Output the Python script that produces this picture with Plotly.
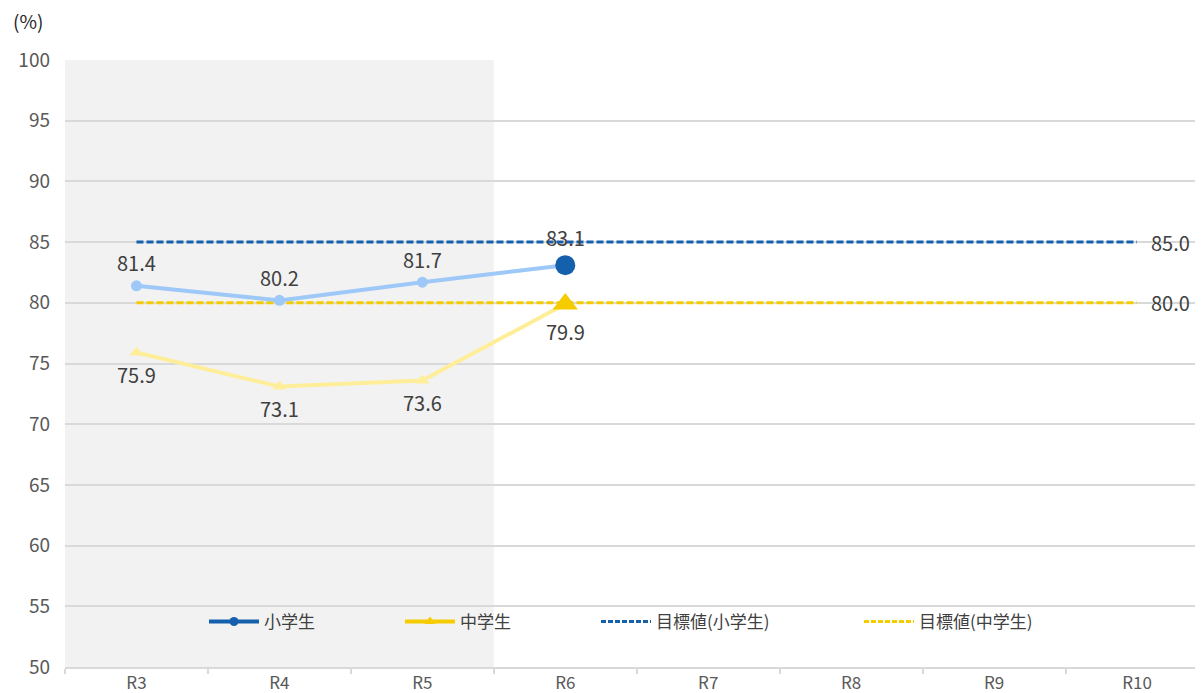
import plotly.graph_objects as go

categories = ["R3", "R4", "R5", "R6", "R7", "R8", "R9", "R10"]
elem_years = ["R3", "R4", "R5", "R6"]
elem_values = [81.4, 80.2, 81.7, 83.1]
junior_years = ["R3", "R4", "R5", "R6"]
junior_values = [75.9, 73.1, 73.6, 79.9]
target_elem = [85.0, 85.0, 85.0, 85.0, 85.0, 85.0, 85.0, 85.0]
target_junior = [80.0, 80.0, 80.0, 80.0, 80.0, 80.0, 80.0, 80.0]
past_years = ["R3", "R4", "R5"]
names = ["小学生", "中学生", "目標値(小学生)", "目標値(中学生)"]

FONT = "Noto Sans CJK JP, Noto Sans, sans-serif"
BLUE = "#1560AC"
LBLUE = "#9DC8F7"
YEL = "#F5CC00"
LYEL = "#FFEE99"
GRID = "#D9D9D9"
TXT = "#404040"

fig = go.Figure()

# target lines
fig.add_trace(go.Scatter(x=categories, y=target_elem, mode="lines",
                         line=dict(color=BLUE, width=3, dash="7px,3px"),
                         showlegend=False, hoverinfo="skip"))
fig.add_trace(go.Scatter(x=categories, y=target_junior, mode="lines",
                         line=dict(color=YEL, width=3, dash="7px,3px"),
                         showlegend=False, hoverinfo="skip"))

n_past = len(past_years)
elem_colors = [LBLUE] * n_past + [BLUE] * (len(elem_values) - n_past)
elem_sizes = [11] * n_past + [20] * (len(elem_values) - n_past)
jun_colors = [LYEL] * n_past + [YEL] * (len(junior_values) - n_past)
jun_sizes = [12] * n_past + [22] * (len(junior_values) - n_past)

fig.add_trace(go.Scatter(x=junior_years, y=junior_values, mode="lines+markers",
                         line=dict(color=LYEL, width=4),
                         marker=dict(symbol="triangle-up", color=jun_colors, size=jun_sizes,
                                     opacity=1, line=dict(width=0)),
                         showlegend=False))
fig.add_trace(go.Scatter(x=elem_years, y=elem_values, mode="lines+markers",
                         line=dict(color=LBLUE, width=4),
                         marker=dict(symbol="circle", color=elem_colors, size=elem_sizes,
                                     opacity=1, line=dict(width=0)),
                         showlegend=False))

# legend-only traces
fig.add_trace(go.Scatter(x=[None], y=[None], mode="lines+markers", name=names[0],
                         line=dict(color=BLUE, width=4),
                         marker=dict(symbol="circle", color=BLUE, size=9), legend="legend"))
fig.add_trace(go.Scatter(x=[None], y=[None], mode="lines+markers", name=names[1],
                         line=dict(color=YEL, width=4),
                         marker=dict(symbol="triangle-up", color=YEL, size=10), legend="legend2"))
fig.add_trace(go.Scatter(x=[None], y=[None], mode="lines", name=names[2],
                         line=dict(color=BLUE, width=3, dash="5px,2px"), legend="legend3"))
fig.add_trace(go.Scatter(x=[None], y=[None], mode="lines", name=names[3],
                         line=dict(color=YEL, width=3, dash="5px,2px"), legend="legend4"))

LBL = 20
annotations = []
for i, (x, v) in enumerate(zip(elem_years, elem_values)):
    annotations.append(dict(x=x, y=v, text=f"{v:.1f}", showarrow=False,
                            yshift=28 if i >= n_past else 23, font=dict(size=LBL, color=TXT, family=FONT)))
for i, (x, v) in enumerate(zip(junior_years, junior_values)):
    annotations.append(dict(x=x, y=v, text=f"{v:.1f}", showarrow=False,
                            yshift=-27 if i >= n_past else -22, font=dict(size=LBL, color=TXT, family=FONT)))
annotations.append(dict(x=categories[-1], y=target_elem[-1], text=f"{target_elem[-1]:.1f}",
                        showarrow=False, xanchor="left", xshift=12,
                        font=dict(size=LBL, color=TXT, family=FONT)))
annotations.append(dict(x=categories[-1], y=target_junior[-1], text=f"{target_junior[-1]:.1f}",
                        showarrow=False, xanchor="left", xshift=12,
                        font=dict(size=LBL, color=TXT, family=FONT)))

# page body has an 8px margin; compensate so the plot area lands where the reference has it
OFF = 8
W, H = 1203 - OFF, 693 - OFF
L, R, T, B = 65 - OFF, 0, 60 - OFF, 26
pw = W - L - R
ph = H - T - B


def lx(px):
    return (px - OFF - L) / pw


def ly(py):
    return (H - B - (py - OFF)) / ph


annotations.append(dict(xref="paper", yref="paper", x=lx(28), y=ly(20), text="(%)",
                        showarrow=False, xanchor="center", yanchor="middle",
                        font=dict(size=19, color="#262626", family=FONT)))

leg_common = dict(orientation="h", yanchor="middle", xanchor="left", bgcolor="rgba(0,0,0,0)",
                  font=dict(size=17, color="#404040", family=FONT), itemwidth=50)

fig.update_layout(
    width=W, height=H,
    margin=dict(l=L, r=R, t=T, b=B),
    paper_bgcolor="white", plot_bgcolor="white",
    font=dict(family=FONT, color="#595959"),
    showlegend=True,
    legend=dict(x=lx(204), y=ly(622), **leg_common),
    legend2=dict(x=lx(400), y=ly(622), **leg_common),
    legend3=dict(x=lx(596), y=ly(622), **leg_common),
    legend4=dict(x=lx(859), y=ly(622), **leg_common),
    annotations=annotations,
    shapes=[dict(type="rect", xref="x", yref="paper", x0=-0.5, x1=2.5, y0=0, y1=1,
                 fillcolor="#F2F2F2", line=dict(width=0), layer="below")],
    xaxis=dict(type="category", categoryorder="array", categoryarray=categories,
               range=[-0.5, 7.5 - (1208.5 - 1203) / 142.86],
               showgrid=False, showline=True, linecolor=GRID, linewidth=2,
               ticks="outside", tickson="boundaries", ticklen=5, tickcolor=GRID, tickwidth=1.5,
               tickfont=dict(size=17, color="#595959", family=FONT), automargin=False, fixedrange=True),
    yaxis=dict(range=[50, 100], dtick=5, tick0=50, showgrid=True, gridcolor=GRID, gridwidth=2,
               zeroline=False, showline=False, ticks="", ticklabelstandoff=14,
               tickfont=dict(size=19, color="#595959", family=FONT), automargin=False, fixedrange=True),
)

fig.write_html("out.html")
